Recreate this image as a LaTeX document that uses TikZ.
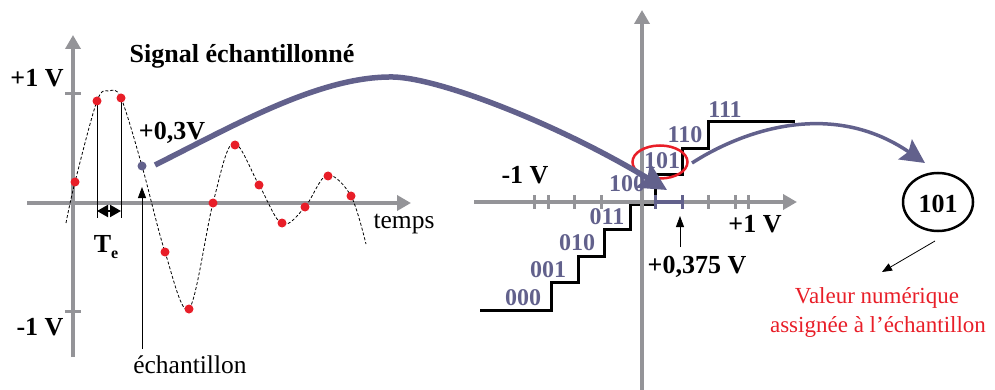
\documentclass[tikz,border=0pt]{standalone}
\usepackage{fontspec}
\setmainfont{Liberation Serif}
\usetikzlibrary{arrows.meta,shapes.geometric}
\definecolor{axisgray}{RGB}{148,148,152}
\definecolor{qviolet}{RGB}{98,97,140}
\definecolor{qred}{RGB}{232,30,40}
\begin{document}
\begin{tikzpicture}[x=1pt,y=-1pt,
  every node/.style={inner sep=0pt, font=\fontsize{25}{29}\selectfont},
  lbl/.style={font=\fontsize{26}{30}\selectfont\bfseries, anchor=base},
  txt/.style={font=\fontsize{25.5}{29}\selectfont, anchor=base},
  redtxt/.style={font=\fontsize{23}{27}\selectfont, anchor=base, text=qred},
  code/.style={font=\fontsize{24}{28}\selectfont\bfseries, text=qviolet, anchor=base},
  axisline/.style={draw=axisgray, line width=4pt},
  axistip/.style={-{Triangle[length=14pt,width=15pt]}},
  tick/.style={draw=axisgray, line width=3pt},
  stair/.style={draw=black, line width=3pt},
  thin/.style={draw=black, line width=0.8pt},
  sample/.style={fill=qred},
  bigarrow/.style={draw=qviolet, line width=5.5pt, -{Stealth[length=28pt,width=28pt,inset=5pt]}},
  smallarrow/.style={draw=qviolet, line width=3.5pt, -{Stealth[length=24pt,width=24pt,inset=4pt]}}
]
\useasboundingbox (0,0) rectangle (995,390);

% ---------- left graph ----------
\draw[axisline, axistip] (27,203) -- (411,203);
\draw[axisline, axistip] (73,357) -- (73,35);
\draw[tick] (65,94) -- (81,94);
\draw[tick] (65,311) -- (81,311);

\node[lbl] (pv) at (37,87) {+1 V};
\node[lbl] (mv) at (40,335) {-1 V};
\node[lbl] (title) at (242,63) {Signal échantillonné};
\node[lbl] (v03) at (172,140) {+0,3V};
\node[txt] (temps) at (404,228) {temps};
\node[txt] (ech) at (190,373) {échantillon};

% dashed analog signal
\draw[black, line width=0.8pt, dash pattern=on 3pt off 2pt]
  plot[smooth, tension=0.55] coordinates {(66,223) (75,182) (97,101) (109,91) (121,98) (142,166) (165,252) (189,309) (213,203) (233,143) (259,185) (282,224) (305,207) (327,175) (351,196) (366,244)};

% Te construction
\draw[thin] (97,101) -- (97,218);
\draw[thin] (121,98) -- (121,218);
\draw[line width=2pt, {Triangle[length=11pt,width=12pt]}-{Triangle[length=11pt,width=12pt]}] (97,211) -- (121,211);
\node[lbl] (te) at (106,252) {T\raisebox{-0.25em}{\fontsize{16}{16}\selectfont e}};

% sample dots
\foreach \px/\py in {75/182,97/101,121/98,165/252,189/309,213/203,235/145,259/185,282/223,305/207,328/176,351/196}
  \fill[sample] (\px,\py) circle (4.5);
\coordinate (s4) at (142,166);
\fill[qviolet] (s4) circle (4.5);

% sample pointer
\coordinate (echtop) at (142,187);
\coordinate (echbot) at (142,349);
\draw[thin, -{Triangle[length=11pt,width=8pt]}] (echbot) -- (echtop);

% ---------- right graph ----------
\draw[stair] (480,310) -- (551,310) -- (551,282) -- (578,282) -- (578,256) -- (604,256) -- (604,229) -- (630,229) -- (630,204) -- (655,204) -- (655,175) -- (682,175) -- (682,149) -- (708,149) -- (708,122) -- (795,122);

\draw[axisline, axistip] (474,202) -- (797,202);
\draw[axisline, axistip] (642,390) -- (642,10);
\foreach \tx in {534,548,574,601,708,735,748}
  \draw[tick] (\tx,195) -- (\tx,209);
\draw[draw=qviolet, line width=4pt] (655,202) -- (682,202);
\draw[draw=qviolet, line width=3pt] (655,195) -- (655,209);
\draw[draw=qviolet, line width=3pt] (682,195) -- (682,209);

\node[lbl] (rmv) at (525,183) {-1 V};
\node[lbl] (rpv) at (755,232) {+1 V};
\node[lbl] (v375) at (697,273) {+0,375 V};
\coordinate (q1) at (680,247);
\coordinate (q2) at (680,216);
\draw[thin, -{Triangle[length=11pt,width=8pt]}] (q1) -- (q2);

\node[code] (c000) at (523,305) {000};
\node[code] (c001) at (548,277) {001};
\node[code] (c010) at (577,250) {010};
\node[code] (c011) at (607,224) {011};
\node[code] (c100) at (627,192) {100};
\node[code] (c101) at (662,168) {101};
\node[code] (c110) at (685,143) {110};
\node[code] (c111) at (725,118) {111};

\draw[draw=qred, line width=2.5pt] (660,162) ellipse [x radius=27.5, y radius=16.5];

% ---------- result ----------
\node[draw=black, line width=2.5pt, ellipse, minimum width=70pt, minimum height=58pt, inner sep=0pt] (res) at (938,202) {};
\node[lbl] (restext) at (938,212) {101};
\coordinate (a1) at (935,241);
\coordinate (a2) at (882,272);
\draw[line width=0.8pt, -{Triangle[length=10pt,width=8pt]}] (a1) -- (a2);
\node[redtxt] (val1) at (877,303) {Valeur numérique};
\node[redtxt] (val2) at (878,332) {assignée à l’échantillon};

% ---------- big arrows ----------
\coordinate (b0) at (155,165);
\coordinate (b1) at (393,77);
\coordinate (b2) at (667,190);
\draw[bigarrow] (b0) .. controls (235,125) and (320,76) .. (b1) .. controls (440,78) and (560,125) .. (b2);

\coordinate (d0) at (692,163);
\coordinate (d1) at (925,163);
\draw[smallarrow] (d0) .. controls (740,132) and (830,98) .. (d1);
\end{tikzpicture}
\end{document}
